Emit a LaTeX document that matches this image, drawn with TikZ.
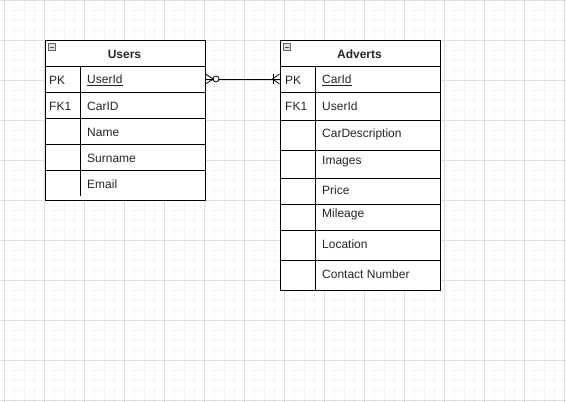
\documentclass[tikz,border=0pt]{standalone}
\usepackage{fontspec}
\setmainfont{Liberation Sans}
\begin{document}
\begin{tikzpicture}[x=1pt,y=-1pt,
  tbl/.style={draw=black,line width=0.9pt,inner sep=0pt,fill=white},
  rowline/.style={draw=black,line width=0.9pt},
  cell/.style={anchor=west,inner sep=0pt,font=\fontsize{12}{14}\selectfont,text=black!85},
  hdr/.style={inner sep=0pt,font=\fontsize{12}{14}\selectfont\bfseries,text=black!85},
  minbox/.style={draw=black!60,fill=black!12,minimum size=7pt,inner sep=0pt,line width=0.5pt},
  conn/.style={draw=black,line width=0.8pt},
  minorgrid/.style={draw=black!4,line width=0.6pt},
  majorgrid/.style={draw=black!13,line width=0.6pt}]
\useasboundingbox (0,0) rectangle (566,402);
\fill[white] (0,0) rectangle (566,402);
% grid
\foreach \x in {4,14,...,564} \draw[minorgrid] (\x,0) -- (\x,402);
\foreach \y in {0,10,...,400} \draw[minorgrid] (0,\y) -- (566,\y);
\foreach \x in {4,44,...,564} \draw[majorgrid] (\x,0) -- (\x,402);
\foreach \y in {0,40,...,400} \draw[majorgrid] (0,\y) -- (566,\y);

% Users table
\node[tbl,minimum width=160pt,minimum height=159.5pt,anchor=north west] (users) at (44.5,40) {};
\draw[rowline] (44.5,66.5) -- (204.5,66.5);
\foreach \y in {92.5,118.5,144.5,170.5} \draw[rowline] (44.5,\y) -- (204.5,\y);
\draw[rowline] (80.5,66.5) -- (80.5,196);
\node[minbox] (umin) at (51.5,47) {};
\draw[black!70,line width=0.6pt] (49.5,47) -- (53.5,47);
\node[hdr] (uhdr) at (124.5,54) {Users};
\node[cell] (upk) at (49,80) {PK};
\node[cell] (uid) at (87,80) {\underline{UserId}};
\node[cell] (ufk) at (49,106) {FK1};
\node[cell] (ucar) at (87,106) {CarID};
\node[cell] (uname) at (87,132) {Name};
\node[cell] (usur) at (87,158) {Surname};
\node[cell] (umail) at (87,184) {Email};

% Adverts table
\node[tbl,minimum width=160pt,minimum height=250pt,anchor=north west] (adverts) at (279.5,40) {};
\draw[rowline] (279.5,66.5) -- (439.5,66.5);
\foreach \y in {92.5,120,150,178.5,204.5,230.5,260} \draw[rowline] (279.5,\y) -- (439.5,\y);
\draw[rowline] (315.5,66.5) -- (315.5,290);
\node[minbox] (amin) at (287,47) {};
\draw[black!70,line width=0.6pt] (285,47) -- (289,47);
\node[hdr] (ahdr) at (359.5,54) {Adverts};
\node[cell] (apk) at (285,80) {PK};
\node[cell] (aid) at (322,80) {\underline{CarId}};
\node[cell] (afk) at (285,106) {FK1};
\node[cell] (auser) at (322,106) {UserId};
\node[cell] (adesc) at (322,134) {CarDescription};
\node[cell] (aimg) at (322,162) {Images};
\node[cell] (aprice) at (322,190) {Price};
\node[cell] (amil) at (322,214) {Mileage};
\node[cell] (aloc) at (322,244) {Location};
\node[cell] (acon) at (322,274) {Contact Number};

% connector
\coordinate (cu) at (users.east |- 0,79);
\coordinate (ca) at (adverts.west |- 0,79);
\draw[conn] (cu) ++(0,-5) -- ++(8,5) -- ++(-8,5);
\draw[conn] (cu) -- ++(8,0);
\draw[conn] (216,79) circle (3);
\draw[conn] (219,79) -- (ca);
\draw[conn] (273,74) -- (273,84);
\draw[conn] (ca) ++(0,-5) -- ++(-7,5) -- ++(7,5);
\end{tikzpicture}
\end{document}
